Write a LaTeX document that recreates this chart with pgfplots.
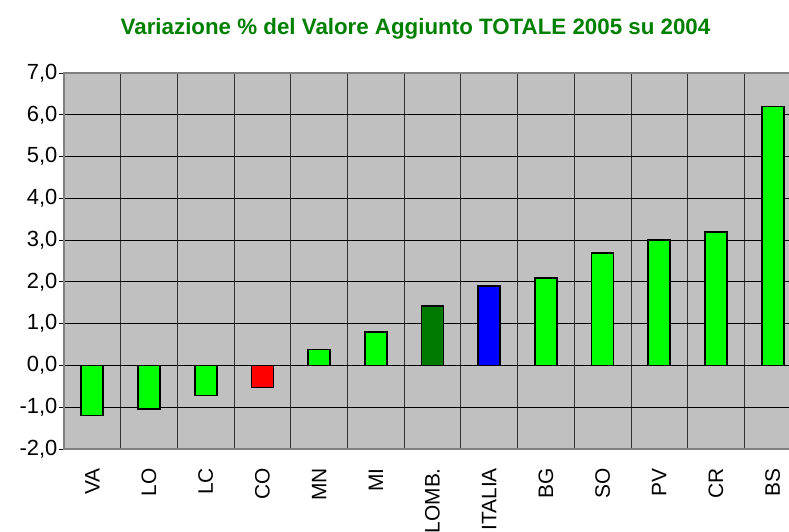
\documentclass[border=0pt]{standalone}
\usepackage{pgfplots}
\pgfplotsset{compat=1.18}
\usepackage{fontspec}
\setmainfont{Liberation Sans}

\definecolor{plotbg}{RGB}{192,192,192}
\definecolor{limeg}{RGB}{0,255,0}
\definecolor{darkg}{RGB}{0,122,0}
\definecolor{titleg}{RGB}{0,128,0}
\definecolor{frame}{RGB}{128,128,128}

\begin{document}
\begin{tikzpicture}
\begin{axis}[
    scale only axis,
    width=737bp, height=376bp,
    xmin=-0.5, xmax=12.5,
    ymin=-2, ymax=7,
    ybar, bar shift=0pt, bar width=22bp,
    axis background/.style={fill=plotbg},
    axis line style={draw=frame, line width=1.3bp},
    ytick={-2,-1,...,7},
    /pgf/number format/fixed,
    /pgf/number format/fixed zerofill,
    /pgf/number format/precision=1,
    /pgf/number format/use comma,
    /pgf/number format/assume math mode=true,
    yticklabel style={inner sep=1.5bp, font=\fontsize{22}{22}\selectfont},
    ymajorgrids, major grid style={black, line width=0.8bp},
    ytick align=outside, ytick pos=left,
    major tick length=5bp,
    y tick style={black, line width=0.8bp},
    xtick={0,1,...,12},
    xticklabels={VA,LO,LC,CO,MN,MI,LOMB.,ITALIA,BG,SO,PV,CR,BS},
    x tick style={draw=none},
    xticklabel style={yshift=-14bp, rotate=90, anchor=east, inner sep=0pt, font=\fontsize{21}{21}\selectfont},
    minor xtick={0.5,1.5,...,11.5},
    xminorgrids, minor grid style={black!80, line width=0.8bp},
    minor tick length=0pt,
    bar style/.style={draw=black, line width=1.8bp, line join=miter},
]
\addplot[bar style, fill=limeg] coordinates {(0,-1.2) (1,-1.05) (2,-0.72) (4,0.38) (5,0.81) (8,2.09) (9,2.70) (10,3.0) (11,3.19) (12,6.2)};
\addplot[bar style, fill=red] coordinates {(3,-0.53)};
\addplot[bar style, fill=darkg] coordinates {(6,1.43)};
\addplot[bar style, fill=blue] coordinates {(7,1.9)};
\end{axis}
\node[anchor=base, text=titleg, font=\bfseries\fontsize{22.4}{22.4}\selectfont]
    at ([xshift=351.5bp, yshift=414bp]current axis.south west)
    {Variazione \% del Valore Aggiunto TOTALE 2005 su 2004};
\pgfresetboundingbox
\path[use as bounding box] ([xshift=-64bp, yshift=-83bp]current axis.south west) rectangle ++(789bp,532bp);
\end{tikzpicture}
\end{document}
